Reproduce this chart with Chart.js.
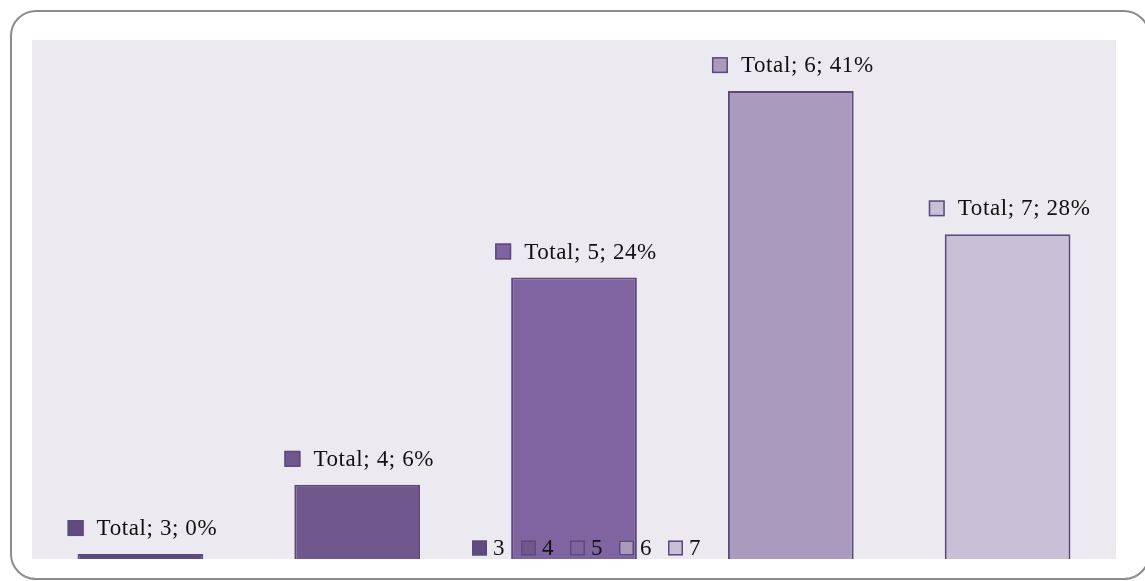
<!DOCTYPE html>
<html>
<head>
<meta charset="utf-8">
<script src="https://cdn.jsdelivr.net/npm/chart.js@4"></script>
<style>
    body { margin: 0; background: #ffffff; width: 1145px; height: 581px; overflow: hidden; position: relative; }
    #frame {
        position: absolute; left: 10px; top: 10px; width: 1140px; height: 570px;
        box-sizing: border-box; border: 2px solid #8c8c8c; border-radius: 26px;
    }
    #totalChartCanvas { position: absolute; left: 32px; top: 40px; }
</style>
</head>
<body>
<div id="frame"></div>
<canvas id="totalChartCanvas" width="1084" height="519"></canvas>
<script>
// share of total per category (percent)
const categories = ['3', '4', '5', '6', '7'];
const totalShare = [0.43, 6.43, 24.41, 40.57, 28.15];
const seriesName = 'Total';

const barColors = ['#5f4b7f', '#70588d', '#8064a2', '#a99abe', '#c8c0d6'];
const edgeColor = '#5c4a7d';
const labelFont = '23px "Liberation Serif", "DejaVu Serif", serif';

// plot background
const plotBackground = {
    id: 'plotBackground',
    beforeDraw(chart) {
        const ctx = chart.ctx;
        ctx.save();
        ctx.fillStyle = '#eceaf0';
        ctx.fillRect(0, 0, chart.width, chart.height);
        ctx.restore();
    }
};

function keyBox(ctx, x, cy, size, fill) {
    ctx.fillStyle = fill;
    ctx.strokeStyle = edgeColor;
    ctx.lineWidth = 1.5;
    ctx.fillRect(x, cy - size / 2, size, size);
    ctx.strokeRect(x + 0.75, cy - size / 2 + 0.75, size - 1.5, size - 1.5);
}

// "Total; 5; 24%" labels with a small colour key above each bar
const barLabels = {
    id: 'barLabels',
    afterDatasetsDraw(chart) {
        const ctx = chart.ctx;
        const meta = chart.getDatasetMeta(0);
        ctx.save();
        ctx.font = labelFont;
        ctx.letterSpacing = '0.6px';
        ctx.textBaseline = 'middle';
        ctx.textAlign = 'left';
        meta.data.forEach((bar, i) => {
            const text = seriesName + '; ' + categories[i] + '; ' + Math.round(totalShare[i]) + '%';
            const w = ctx.measureText(text).width;
            const box = 16, gap = 13;
            const left = bar.x - (box + gap + w) / 2 + 2;
            const cy = bar.y - 26;
            keyBox(ctx, left, cy, box, barColors[i]);
            ctx.fillStyle = '#111111';
            ctx.fillText(text, left + box + gap, cy + 1);
        });
        ctx.restore();
    }
};

// category legend drawn over the bottom of the plot
const categoryLegend = {
    id: 'categoryLegend',
    afterDraw(chart) {
        const ctx = chart.ctx;
        const area = chart.chartArea;
        const step = 49, box = 15;
        const total = step * (categories.length - 1) + 34;
        let x = (area.left + area.right) / 2 - total / 2 + 13;
        const cy = area.bottom - 11;
        ctx.save();
        ctx.font = labelFont;
        ctx.textBaseline = 'middle';
        ctx.textAlign = 'left';
        categories.forEach((c, i) => {
            keyBox(ctx, x, cy, box, barColors[i]);
            ctx.fillStyle = '#111111';
            ctx.fillText(c, x + box + 6, cy + 1);
            x += step;
        });
        ctx.restore();
    }
};

const totalChartConfig = {
    type: 'bar',
    data: {
        labels: categories,
        datasets: [{
            label: seriesName,
            data: totalShare,
            backgroundColor: barColors,
            borderColor: edgeColor,
            borderWidth: 2,
            barPercentage: 1,
            categoryPercentage: 0.58
        }]
    },
    options: {
        responsive: false,
        devicePixelRatio: 1,
        animation: false,
        layout: { padding: 0 },
        scales: {
            x: { display: false },
            y: { display: false, min: 0, max: 45 }
        },
        plugins: {
            legend: { display: false },
            tooltip: { enabled: false }
        }
    },
    plugins: [plotBackground, barLabels, categoryLegend]
};

const totalChart = new Chart(document.getElementById('totalChartCanvas').getContext('2d'), totalChartConfig);
</script>
</body>
</html>
